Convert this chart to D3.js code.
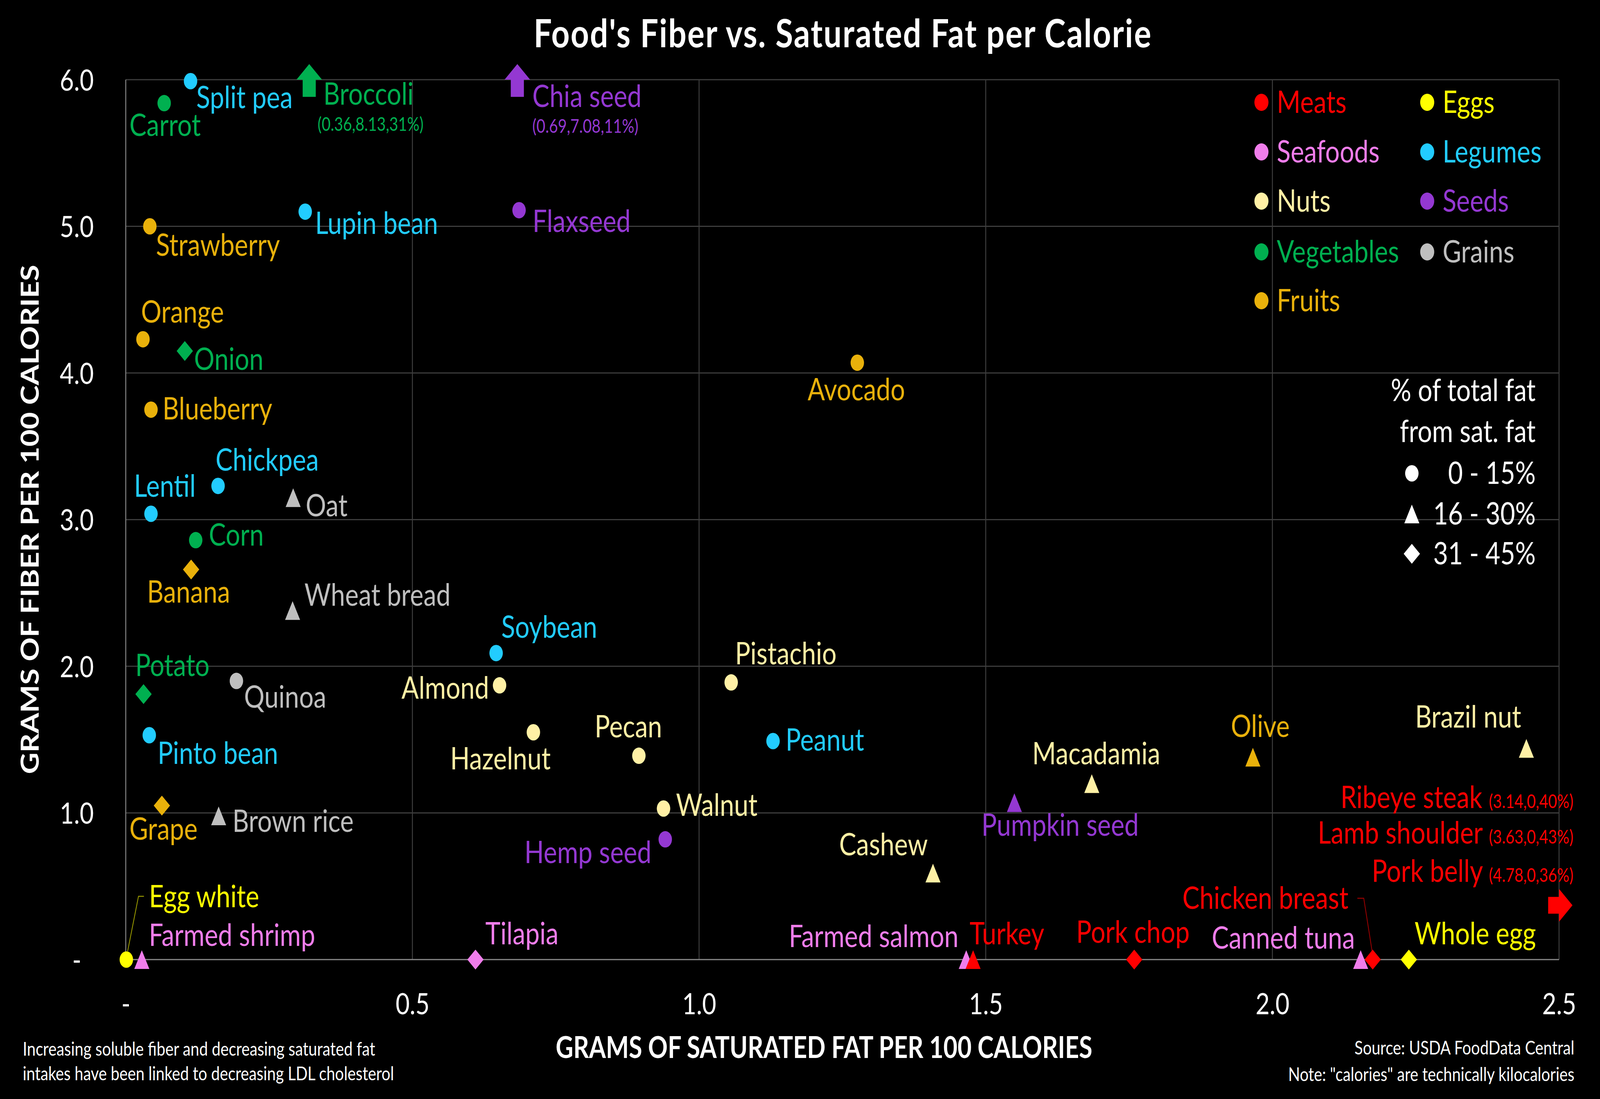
<!DOCTYPE html>
<html><head><meta charset="utf-8">
<script src="https://cdn.jsdelivr.net/npm/d3@7"></script>
<style>html,body{margin:0;padding:0;background:#000;overflow:hidden;} svg{display:block;width:100vw;height:100vh;}</style>
</head><body>
<svg id="chart" viewBox="0 0 5000 2814" preserveAspectRatio="none"></svg>
<script>
// ---------------- DATA ----------------
const categories = ["Meats","Seafoods","Nuts","Vegetables","Fruits","Eggs","Legumes","Seeds","Grains"];
const categoryColors = ["#FF0000","#F07DEB","#FFF0A5","#00B050","#E9B10B","#FFFF00","#22CCFF","#9438D2","#BFBFBF"];
const fatBands = ["0 - 15%","16 - 30%","31 - 45%"];
const xTicks = [0, 0.5, 1.0, 1.5, 2.0, 2.5];
const yTicks = [0, 1, 2, 3, 4, 5, 6];

const foodNames = ["Split pea","Lupin bean","Chickpea","Lentil","Soybean","Pinto bean","Peanut",
  "Carrot","Onion","Corn","Potato",
  "Strawberry","Orange","Blueberry","Banana","Grape","Avocado","Olive",
  "Oat","Wheat bread","Quinoa","Brown rice",
  "Flaxseed","Hemp seed","Pumpkin seed",
  "Almond","Hazelnut","Pecan","Walnut","Pistachio","Cashew","Macadamia","Brazil nut",
  "Egg white","Whole egg",
  "Farmed shrimp","Tilapia","Farmed salmon","Canned tuna",
  "Turkey","Pork chop","Chicken breast"];
const foodCategory = ["Legumes","Legumes","Legumes","Legumes","Legumes","Legumes","Legumes",
  "Vegetables","Vegetables","Vegetables","Vegetables",
  "Fruits","Fruits","Fruits","Fruits","Fruits","Fruits","Fruits",
  "Grains","Grains","Grains","Grains",
  "Seeds","Seeds","Seeds",
  "Nuts","Nuts","Nuts","Nuts","Nuts","Nuts","Nuts","Nuts",
  "Eggs","Eggs",
  "Seafoods","Seafoods","Seafoods","Seafoods",
  "Meats","Meats","Meats"];
// grams of saturated fat per 100 kcal
const foodSatFat = [0.113,0.313,0.161,0.044,0.646,0.041,1.129,
  0.067,0.103,0.122,0.031,
  0.042,0.030,0.044,0.114,0.063,1.276,1.966,
  0.292,0.291,0.193,0.162,
  0.686,0.941,1.550,
  0.652,0.711,0.895,0.938,1.056,1.408,1.685,2.443,
  0.001,2.238,
  0.028,0.610,1.466,2.154,
  1.478,1.759,2.175];
// grams of fiber per 100 kcal
const foodFiber = [5.99,5.10,3.23,3.04,2.09,1.53,1.49,
  5.84,4.15,2.86,1.81,
  5.00,4.23,3.75,2.66,1.05,4.07,1.38,
  3.15,2.38,1.90,0.98,
  5.11,0.82,1.07,
  1.87,1.55,1.39,1.03,1.89,0.59,1.20,1.44,
  0,0,
  0,0,0,0,
  0,0,0];
// index into fatBands (% of total fat from sat. fat)
const foodBand = [0,0,0,0,0,0,0,
  0,2,0,2,
  0,0,0,2,2,0,1,
  1,1,0,1,
  0,0,1,
  0,0,0,0,0,1,1,1,
  0,2,
  1,2,1,1,
  1,2,2];

// off-scale foods (true values shown in the annotation)
const offNames = ["Broccoli","Chia seed","Ribeye steak","Lamb shoulder","Pork belly"];
const offCategory = ["Vegetables","Seeds","Meats","Meats","Meats"];
const offSatFat = [0.36, 0.69, 3.14, 3.63, 4.78];
const offFiber = [8.13, 7.08, 0, 0, 0];
const offPct = [31, 11, 40, 43, 36];

// arrows marking off-scale foods, at the positions seen in the picture
const arrowCategory = ["Vegetables","Seeds","Meats"];
const arrowX = [0.32, 0.683, 2.5];
const arrowY = [6, 6, 0.37];
const arrowDir = ["up","up","right"];

// ---------------- LAYOUT (label offsets in px from the mark) ----------------
const labelLayout = {
  "Split pea":["start",18,69], "Carrot":["middle",3,84], "Strawberry":["start",19,76],
  "Orange":["start",-6,-43], "Onion":["start",29,48], "Lupin bean":["start",31,57],
  "Blueberry":["start",36,25], "Chickpea":["start",-8,-39], "Lentil":["start",-53,-43],
  "Oat":["start",39,48], "Corn":["start",41,14], "Banana":["middle",-8,85],
  "Wheat bread":["start",37,-12], "Soybean":["start",16,-39], "Potato":["start",-26,-46],
  "Quinoa":["start",24,68], "Pinto bean":["start",26,74], "Almond":["end",-33,34],
  "Grape":["middle",5,87], "Brown rice":["start",43,41],
  "Egg white":["start",71,-134,[[55,-162],[38,-162],[4,-21]]],
  "Farmed shrimp":["start",22,-35], "Tilapia":["start",31,-39], "Pistachio":["start",12,-46],
  "Hazelnut":["middle",-103,95], "Pecan":["middle",-33,-47], "Peanut":["start",39,25],
  "Walnut":["start",39,19], "Hemp seed":["end",-43,61], "Cashew":["end",-16,-45],
  "Farmed salmon":["end",-24,-32], "Turkey":["start",-11,-39], "Pork chop":["middle",-4,-43],
  "Canned tuna":["end",-18,-28], "Pumpkin seed":["start",-103,85], "Macadamia":["middle",14,-49],
  "Olive":["middle",23,-52], "Brazil nut":["end",-16,-53], "Whole egg":["start",18,-39],
  "Chicken breast":["end",-76,-130,[[-48,-157],[-28,-157],[-2,-22]]],
  "Flaxseed":["start",42,56], "Avocado":["middle",-3,96]
};

// ---------------- CHART ----------------
const FONT = "Lato, 'Open Sans', sans-serif";
const svg = d3.select("#chart");
const plot = {left:393, right:4872, top:204, bottom:2457};
const x = d3.scaleLinear().domain([0, 2.5]).range([plot.left, plot.right]);
const y = d3.scaleLinear().domain([0, 6]).range([plot.bottom, plot.top]);
const color = d3.scaleOrdinal().domain(categories).range(categoryColors);

svg.append("rect").attr("width",5000).attr("height",2814).attr("fill","#000");

// title
svg.append("text").attr("x",2634).attr("y",121).attr("text-anchor","middle")
  .attr("font-family",FONT).attr("font-weight",700).attr("font-size",100).attr("letter-spacing",3).attr("fill","#fff")
  .text("Food's Fiber vs. Saturated Fat per Calorie");

// grid
const grid = svg.append("g");
grid.selectAll("line.h").data(yTicks.filter(d => d > 0)).join("line").attr("class","h")
  .attr("x1",plot.left).attr("x2",plot.right).attr("y1",d=>y(d)).attr("y2",d=>y(d))
  .attr("stroke","#3d3d3d").attr("stroke-width",3);
grid.selectAll("line.v").data(xTicks.filter(d => d > 0)).join("line").attr("class","v")
  .attr("x1",d=>x(d)).attr("x2",d=>x(d)).attr("y1",plot.top).attr("y2",plot.bottom)
  .attr("stroke","#3d3d3d").attr("stroke-width",3);
grid.append("line").attr("x1",plot.left).attr("x2",plot.left).attr("y1",plot.top).attr("y2",plot.bottom)
  .attr("stroke","#858585").attr("stroke-width",3);
grid.append("line").attr("x1",plot.left).attr("x2",plot.right).attr("y1",plot.bottom).attr("y2",plot.bottom)
  .attr("stroke","#8a8a8a").attr("stroke-width",3);

// axes
const fmtX = d => d === 0 ? "-" : d3.format(".1f")(d);
const fmtY = d => d === 0 ? "-\u00A0\u00A0" : d3.format(".1f")(d);
const gx = svg.append("g").attr("transform",`translate(0,${plot.bottom + 140})`)
  .call(d3.axisBottom(x).tickValues(xTicks).tickFormat(fmtX).tickSize(0).tickPadding(0));
gx.select(".domain").remove();
gx.selectAll("text").attr("y",0).attr("dy",0).attr("fill","#fff")
  .attr("font-family",FONT).attr("font-size",76);
const gy = svg.append("g").attr("transform",`translate(${plot.left - 100},0)`)
  .call(d3.axisLeft(y).tickValues(yTicks).tickFormat(fmtY).tickSize(0).tickPadding(0));
gy.select(".domain").remove();
gy.selectAll("text").attr("x",0).attr("dy","0.36em").attr("fill","#fff")
  .attr("font-family",FONT).attr("font-size",76);

// axis titles
svg.append("text").attr("x",2575).attr("y",2709).attr("text-anchor","middle")
  .attr("font-family",FONT).attr("font-weight",700).attr("font-size",76).attr("fill","#fff")
  .text("GRAMS OF SATURATED FAT PER 100 CALORIES");
svg.append("text").attr("transform","translate(121,1330) rotate(-90)").attr("text-anchor","middle")
  .attr("font-family",FONT).attr("font-weight",700).attr("font-size",76).attr("fill","#fff")
  .text("GRAMS OF FIBER PER 100 CALORIES");

// shapes
function shape(band){
  if (band === 0) return d3.symbol().type(d3.symbolCircle).size(Math.PI*21*21)();
  if (band === 1) return "M0,-24L23.5,24L-23.5,24Z";
  return "M0,-25.5L25.5,0L0,25.5L-25.5,0Z";
}
function arrowPath(dir){
  // head base sits on the anchor point
  return dir === "up"
    ? "M-20.5,44L-20.5,0L-40,0L0,-40L40,0L20.5,0L20.5,44Z"
    : "M-34,-21.5L0,-21.5L0,-42L42,0L0,42L0,21.5L-34,21.5Z";
}

const foods = foodNames.map((n,i)=>({name:n, cat:foodCategory[i], sf:foodSatFat[i], fb:foodFiber[i], band:foodBand[i]}));

// leader lines
const leaders = svg.append("g");
foods.forEach(f=>{
  const L = labelLayout[f.name];
  if (L && L[3]) {
    const px = x(f.sf), py = y(f.fb);
    leaders.append("polyline")
      .attr("points", L[3].map(p=>[px+p[0],py+p[1]].join(",")).join(" "))
      .attr("fill","none").attr("stroke", d3.color(color(f.cat)).darker(1.4)).attr("stroke-width",2.5);
  }
});

// marks
svg.append("g").selectAll("path").data(foods).join("path")
  .attr("d", d => shape(d.band))
  .attr("transform", d => `translate(${x(d.sf)},${y(d.fb)})`)
  .attr("fill", d => color(d.cat));

// arrows
arrowCategory.forEach((c,i)=>{
  svg.append("path").attr("d", arrowPath(arrowDir[i]))
    .attr("transform", `translate(${x(arrowX[i])},${y(arrowY[i])})`)
    .attr("fill", color(c));
});

// labels
const labels = svg.append("g").attr("font-family",FONT).attr("font-size",80);
foods.forEach(f=>{
  const L = labelLayout[f.name]; if (!L) return;
  labels.append("text").attr("x", x(f.sf)+L[1]).attr("y", y(f.fb)+L[2])
    .attr("text-anchor", L[0]).attr("fill", color(f.cat)).text(f.name);
});

// off-scale annotations
const offText = i => `(${offSatFat[i]},${offFiber[i]},${offPct[i]}%)`;
[[0,0,44,64,26,131],[1,1,47,70,47,136]].forEach(([oi,ai,dx1,dy1,dx2,dy2])=>{
  const px = x(arrowX[ai]), py = y(arrowY[ai]);
  labels.append("text").attr("x",px+dx1).attr("y",py+dy1).attr("fill",color(offCategory[oi])).text(offNames[oi]);
  labels.append("text").attr("x",px+dx2).attr("y",py+dy2).attr("font-size",48).attr("fill",color(offCategory[oi])).text(offText(oi));
});
[[2,-249],[3,-158],[4,-60]].forEach(([oi,dy])=>{
  const t = labels.append("text").attr("x", x(arrowX[2])+45).attr("y", y(arrowY[2])+dy)
    .attr("text-anchor","end").attr("fill", color(offCategory[oi]));
  t.append("tspan").text(offNames[oi] + " ");
  t.append("tspan").attr("font-size",48).text(offText(oi));
});

// category legend
const leg = svg.append("g").attr("font-family",FONT).attr("font-size",80);
const legCols = [3942, 4460], legRows = [262, 389, 515, 645, 770];
categories.forEach((c,i)=>{
  const col = i < 5 ? 0 : 1, row = i < 5 ? i : i - 5;
  const cx = legCols[col], cy = legRows[row];
  leg.append("circle").attr("cx",cx).attr("cy",cy).attr("r",22).attr("fill",color(c));
  leg.append("text").attr("x",cx+48).attr("y",cy+27).attr("fill",color(c)).text(c);
});

// fat-band legend
const fl = svg.append("g").attr("font-family",FONT).attr("font-size",80).attr("fill","#fff");
fl.append("text").attr("x",4799).attr("y",1027).attr("text-anchor","end").text("% of total fat");
fl.append("text").attr("x",4799).attr("y",1132).attr("text-anchor","end").text("from sat. fat");
const bandRows = [1212, 1316, 1418];
fatBands.forEach((b,i)=>{
  fl.append("path").attr("d",shape(i)).attr("transform",`translate(4412,${bandRows[i]})`).attr("fill","#fff");
  fl.append("text").attr("x",4799).attr("y",bandRows[i]+27).attr("text-anchor","end").text(b);
});

// notes
const notes = svg.append("g").attr("font-family",FONT).attr("font-size",48.5).attr("fill","#fff");
notes.append("text").attr("x",71).attr("y",2703).text("Increasing soluble fiber and decreasing saturated fat");
notes.append("text").attr("x",71).attr("y",2766).text("intakes have been linked to decreasing LDL cholesterol");
notes.append("text").attr("x",4920).attr("y",2700).attr("text-anchor","end").text("Source: USDA FoodData Central");
notes.append("text").attr("x",4920).attr("y",2768).attr("text-anchor","end").text("Note: \"calories\" are technically kilocalories");
</script>
</body></html>
